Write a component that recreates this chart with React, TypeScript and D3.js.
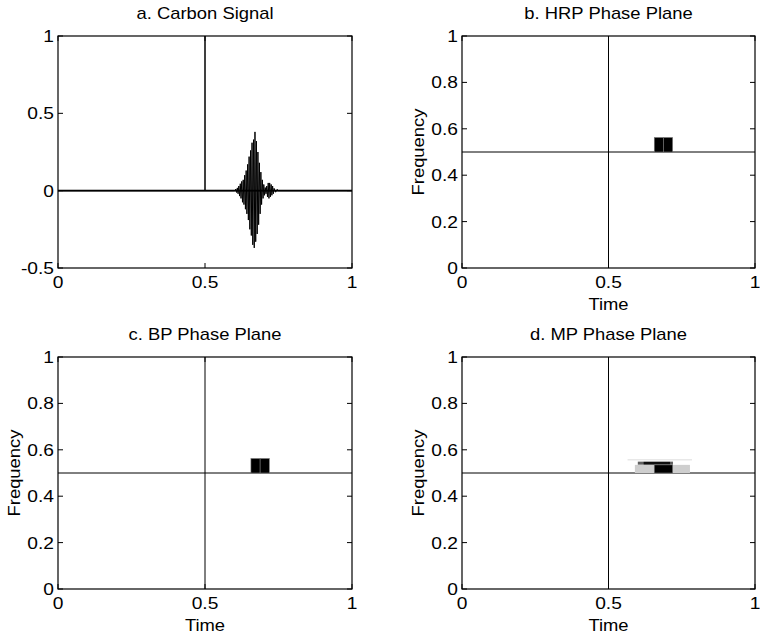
import React from 'react';
import * as d3 from 'd3';

// ---------- data ----------
const titles = ['a. Carbon Signal', 'b. HRP Phase Plane', 'c. BP Phase Plane', 'd. MP Phase Plane'];
const timeTicks = [0, 0.5, 1];
const signalTicks = [-0.5, 0, 0.5, 1];
const freqTicks = [0, 0.2, 0.4, 0.6, 0.8, 1];

// Dirac component
const diracTime = 0.5;
// Low-amplitude sinusoid component (frequency in phase plane, amplitude in signal)
const sinusoidFreq = 0.5;
const sinusoidAmp = 0.006;

// Carbon signal samples [time, value]
const carbonSignal: [number, number][] = [
  [0, 0], [0.5, 0], [0.5, 1], [0.5, 0], [0.6, 0],
  [0.605, 0.01], [0.6075, -0.012], [0.61, 0.018], [0.6125, -0.02], [0.615, 0.03],
  [0.6175, -0.035], [0.62, 0.045], [0.6225, -0.05], [0.625, 0.06], [0.6275, -0.075],
  [0.63, 0.07], [0.6325, -0.09], [0.635, 0.1], [0.6375, -0.12], [0.64, 0.13],
  [0.6425, -0.15], [0.645, 0.17], [0.6475, -0.19], [0.65, 0.22], [0.6525, -0.25],
  [0.655, 0.26], [0.6575, -0.29], [0.66, 0.31], [0.6625, -0.35], [0.665, 0.33],
  [0.6675, -0.37], [0.67, 0.38], [0.6725, -0.33], [0.675, 0.32], [0.6775, -0.28],
  [0.68, 0.25], [0.6825, -0.22], [0.685, 0.18], [0.6875, -0.15], [0.69, 0.12],
  [0.6925, -0.09], [0.695, 0.07], [0.6975, -0.05], [0.7, 0.04], [0.7025, -0.03],
  [0.705, 0.02], [0.7075, -0.02], [0.71, 0.03], [0.7125, -0.04], [0.715, 0.05],
  [0.7175, -0.05], [0.72, 0.05], [0.7225, -0.04], [0.725, 0.04], [0.7275, -0.03],
  [0.73, 0.03], [0.7325, -0.02], [0.735, 0.015], [0.74, -0.01], [0.745, 0.008],
  [0.75, 0], [1, 0],
];

type Tile = { t0: number; t1: number; f0: number; f1: number; shade: number };

const hrpTiles: Tile[] = [
  { t0: 0.65625, t1: 0.6875, f0: 0.5, f1: 0.5625, shade: 1 },
  { t0: 0.6875, t1: 0.71875, f0: 0.5, f1: 0.5625, shade: 1 },
];
const bpTiles: Tile[] = [
  { t0: 0.65625, t1: 0.6875, f0: 0.5, f1: 0.5625, shade: 1 },
  { t0: 0.6875, t1: 0.71875, f0: 0.5, f1: 0.5625, shade: 1 },
];
const mpTiles: Tile[] = [
  { t0: 0.565, t1: 0.785, f0: 0.555, f1: 0.558, shade: 0.3 },
  { t0: 0.59, t1: 0.778, f0: 0.5, f1: 0.535, shade: 0.3 },
  { t0: 0.6, t1: 0.72, f0: 0.536, f1: 0.549, shade: 0.7 },
  { t0: 0.62, t1: 0.71, f0: 0.537, f1: 0.548, shade: 0.95 },
  { t0: 0.65625, t1: 0.71875, f0: 0.5, f1: 0.535, shade: 1 },
];

// ---------- layout ----------
const W = 760;
const H = 637;
const FONT = "'Liberation Sans', Arial, Helvetica, sans-serif";
const panels = [
  { x0: 58, x1: 352, y0: 36, y1: 268 },
  { x0: 462, x1: 755, y0: 36, y1: 268 },
  { x0: 58, x1: 352, y0: 357, y1: 589 },
  { x0: 462, x1: 755, y0: 357, y1: 589 },
];

function Txt({ x, y, anchor = 'middle', rotate = 0, size = 16, sx = 1.15, children }: any) {
  return (
    <text
      transform={`translate(${x},${y}) rotate(${rotate}) scale(${sx},1)`}
      textAnchor={anchor}
      fontSize={size}
      fontFamily={FONT}
      fill="#000"
    >
      {children}
    </text>
  );
}

function Axes({ p, yTicks, yDomain, title, xLabel, yLabel, children }: any) {
  const xs = d3.scaleLinear().domain([0, 1]).range([p.x0, p.x1]);
  const ys = d3.scaleLinear().domain(yDomain).range([p.y1, p.y0]);
  const tl = 5;
  return (
    <g>
      {children(xs, ys)}
      <rect x={p.x0} y={p.y0} width={p.x1 - p.x0} height={p.y1 - p.y0} fill="none" stroke="#000" strokeWidth={1.2} />
      {timeTicks.map((t: number) => (
        <g key={'x' + t}>
          <line x1={xs(t)} x2={xs(t)} y1={p.y1} y2={p.y1 - tl} stroke="#000" />
          <line x1={xs(t)} x2={xs(t)} y1={p.y0} y2={p.y0 + tl} stroke="#000" />
          <Txt x={xs(t)} y={p.y1 + 20} sx={1.2}>{String(t)}</Txt>
        </g>
      ))}
      {yTicks.map((v: number) => (
        <g key={'y' + v}>
          <line x1={p.x0} x2={p.x0 + tl} y1={ys(v)} y2={ys(v)} stroke="#000" />
          <line x1={p.x1} x2={p.x1 - tl} y1={ys(v)} y2={ys(v)} stroke="#000" />
          <Txt x={p.x0 - 4} y={ys(v) + 6} anchor="end" sx={1.2}>{String(v)}</Txt>
        </g>
      ))}
      <Txt x={(p.x0 + p.x1) / 2} y={p.y0 - 17}>{title}</Txt>
      {xLabel && <Txt x={(p.x0 + p.x1) / 2} y={p.y1 + 42}>{xLabel}</Txt>}
      {yLabel && <Txt x={p.x0 - 38} y={(p.y0 + p.y1) / 2} rotate={-90}>{yLabel}</Txt>}
    </g>
  );
}

function PhasePlane({ p, title, tiles }: any) {
  return (
    <Axes p={p} yTicks={freqTicks} yDomain={[0, 1]} title={title} xLabel="Time" yLabel="Frequency">
      {(xs: any, ys: any) => (
        <g>
          <line x1={xs(diracTime)} x2={xs(diracTime)} y1={ys(0)} y2={ys(1)} stroke="#000" strokeWidth={1} />
          <line x1={xs(0)} x2={xs(1)} y1={ys(sinusoidFreq)} y2={ys(sinusoidFreq)} stroke="#000" strokeWidth={1} />
          {tiles.map((d: Tile, i: number) => (
            <rect
              key={i}
              x={xs(d.t0)}
              y={ys(d.f1)}
              width={xs(d.t1) - xs(d.t0)}
              height={ys(d.f0) - ys(d.f1)}
              fill={d3.interpolateGreys(d.shade)}
              stroke={d.shade >= 1 ? '#777' : 'none'}
              strokeWidth={0.6}
            />
          ))}
        </g>
      )}
    </Axes>
  );
}

export default function App() {
  const line = d3.line<[number, number]>();
  return (
    <svg width={W} height={H} style={{ position: 'absolute', left: 0, top: 0, background: '#fff' }}>
      <rect x={0} y={0} width={W} height={H} fill="#fff" />
      <Axes p={panels[0]} yTicks={signalTicks} yDomain={[-0.5, 1]} title={titles[0]}>
        {(xs: any, ys: any) => (
          <g>
            <rect
              x={xs(0)}
              y={ys(sinusoidAmp)}
              width={xs(1) - xs(0)}
              height={ys(-sinusoidAmp) - ys(sinusoidAmp)}
              fill="#000"
            />
            <path
              d={line.x((d) => xs(d[0])).y((d) => ys(d[1]))(carbonSignal) || ''}
              fill="none"
              stroke="#000"
              strokeWidth={1}
            />
          </g>
        )}
      </Axes>
      <PhasePlane p={panels[1]} title={titles[1]} tiles={hrpTiles} />
      <PhasePlane p={panels[2]} title={titles[2]} tiles={bpTiles} />
      <PhasePlane p={panels[3]} title={titles[3]} tiles={mpTiles} />
    </svg>
  );
}
